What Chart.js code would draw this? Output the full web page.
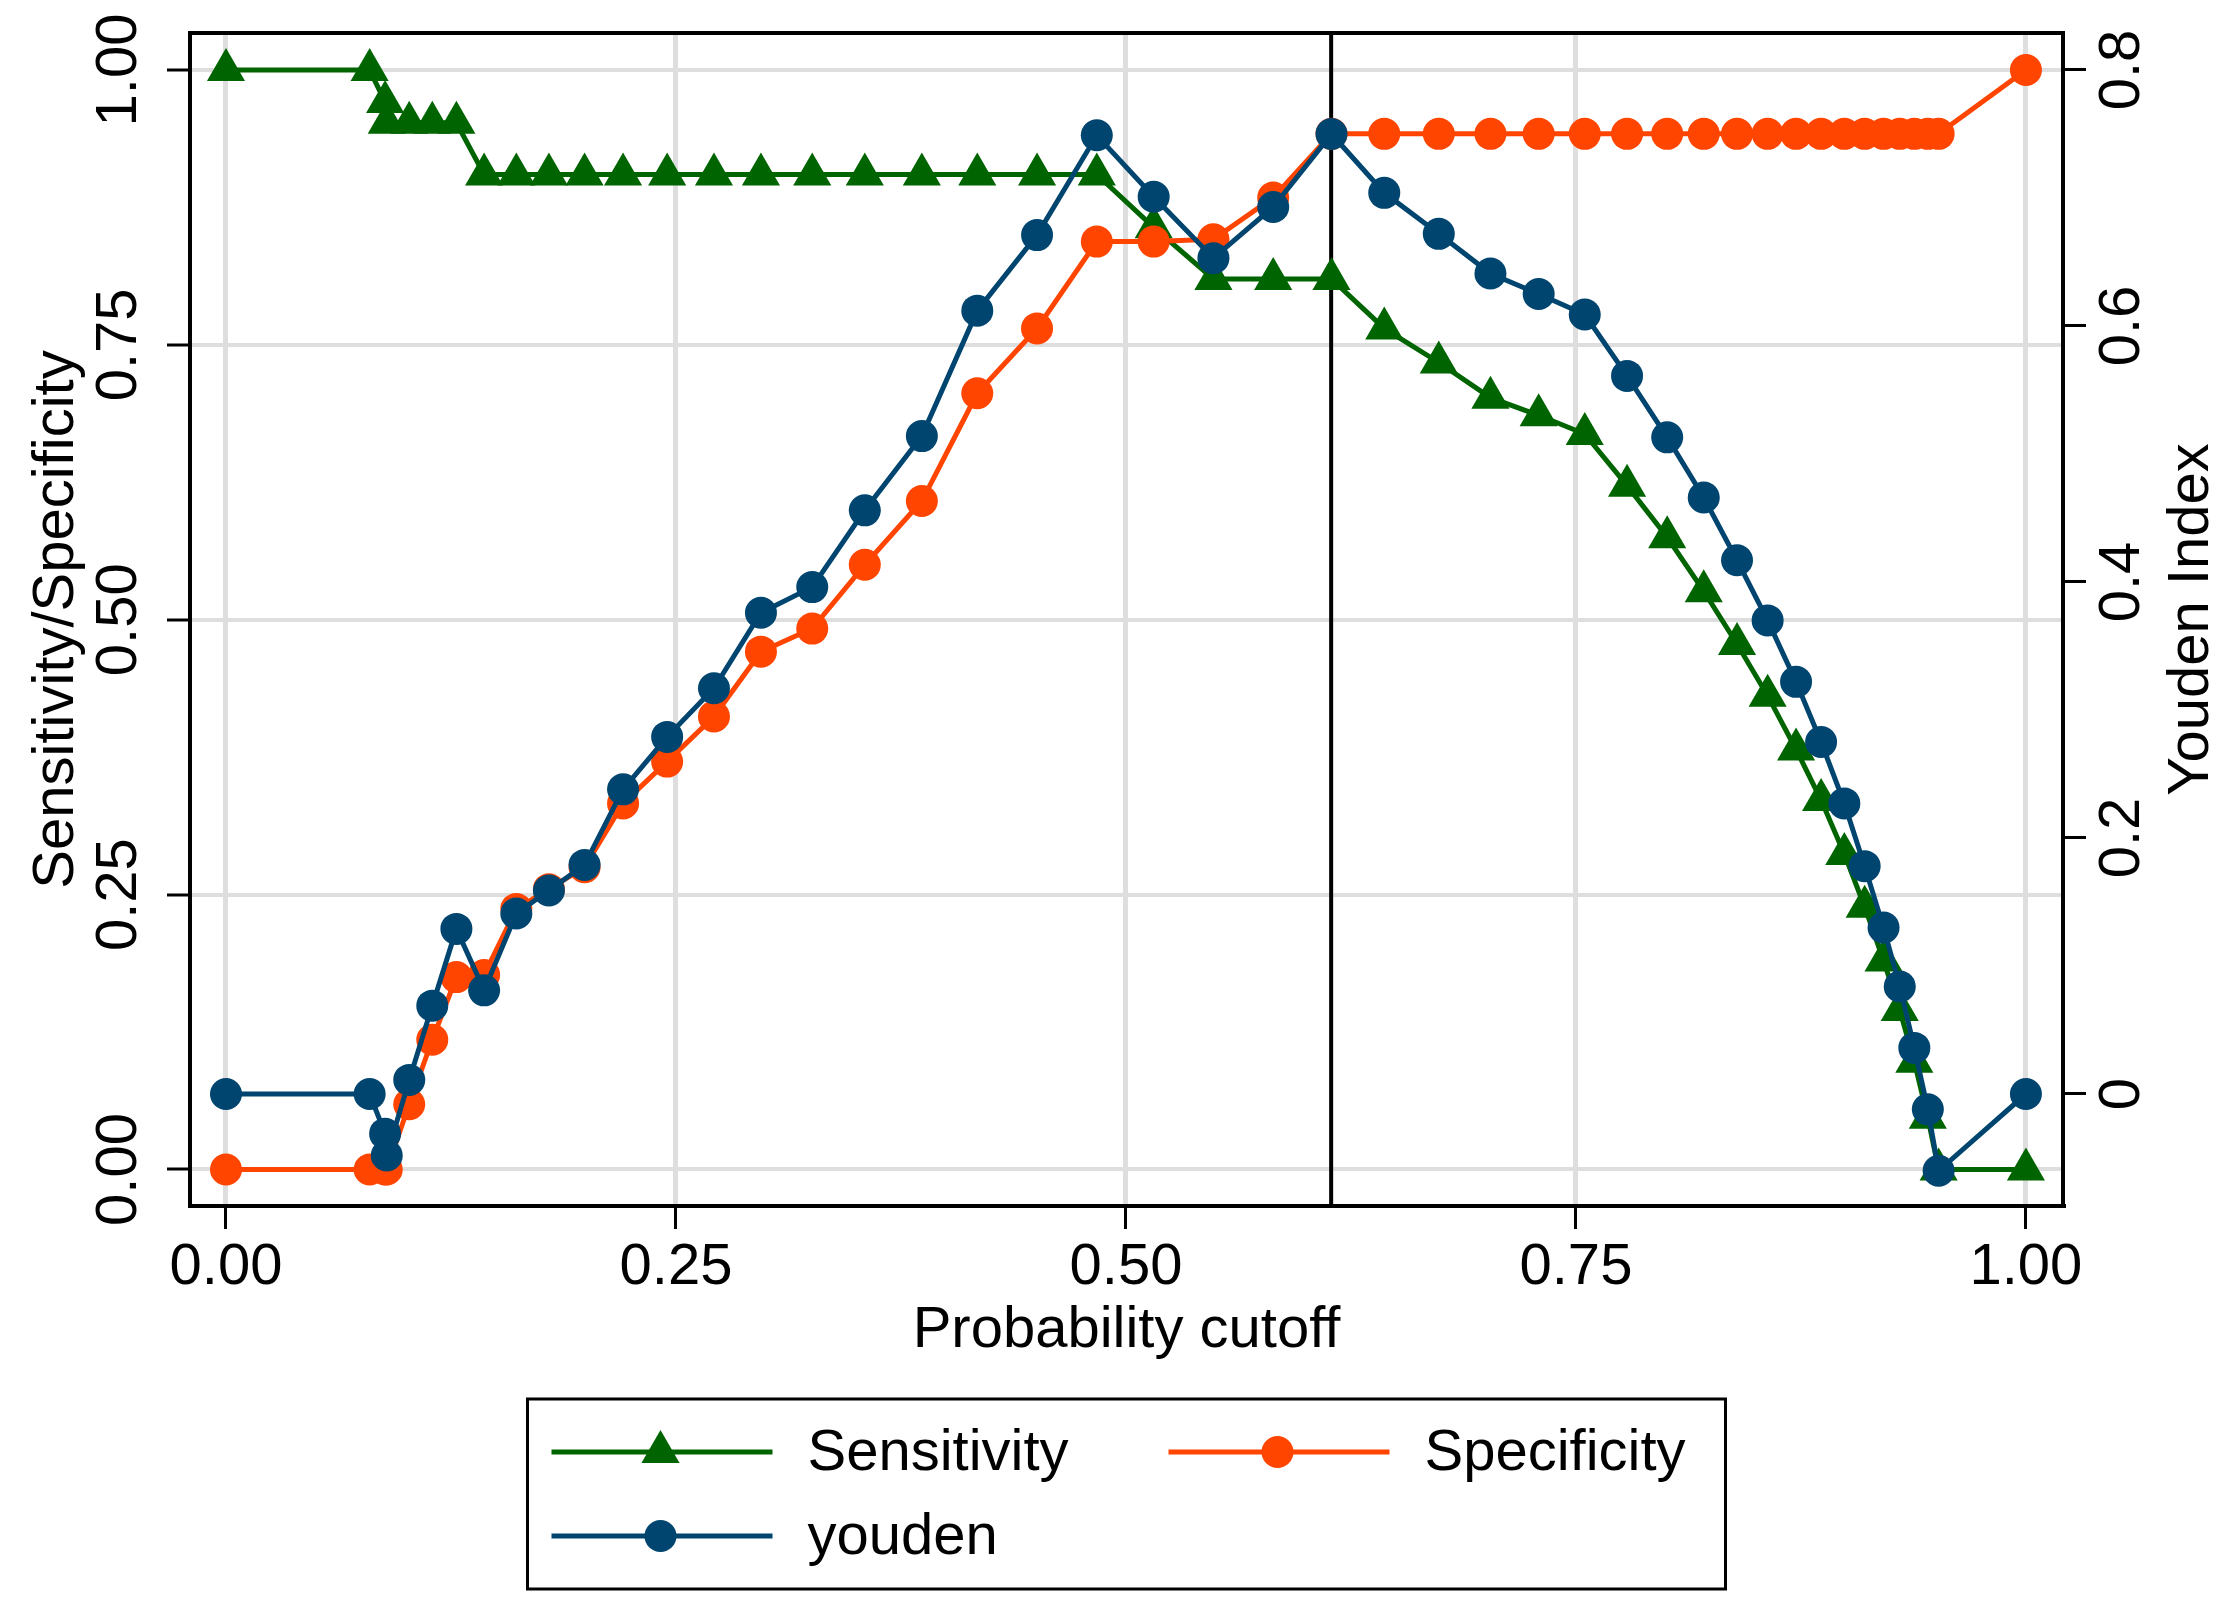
<!DOCTYPE html>
<html>
<head>
<meta charset="utf-8">
<title>Sensitivity / Specificity / Youden</title>
<script src="https://cdn.jsdelivr.net/npm/chart.js@4"></script>
<style>
  html, body { margin: 0; padding: 0; background: #fff; overflow: hidden; }
  #wrap { width: 2232px; height: 1612px; }
</style>
</head>
<body>
<div id="wrap"><canvas id="roc" width="2232" height="1612"></canvas></div>
<script>
// values
const cutoff = [0, 0.0798, 0.0884, 0.0893, 0.1018, 0.1146, 0.128, 0.1434, 0.1613, 0.1794,
  0.1992, 0.2206, 0.2451, 0.2711, 0.2972, 0.3257, 0.3549, 0.3866, 0.4174, 0.4506,
  0.4838, 0.5154, 0.5486, 0.5818, 0.6142, 0.6435, 0.6738, 0.7025, 0.7293, 0.7549,
  0.7784, 0.8007, 0.821, 0.8395, 0.8565, 0.8723, 0.8862, 0.8991, 0.9104, 0.9209,
  0.9299, 0.938, 0.9455, 0.9515, 1.0];

const sensitivity = [1, 1, 0.971, 0.952, 0.952, 0.952, 0.952, 0.905, 0.905, 0.905,
  0.905, 0.905, 0.905, 0.905, 0.905, 0.905, 0.905, 0.905, 0.905, 0.905,
  0.905, 0.857, 0.81, 0.81, 0.81, 0.765, 0.734, 0.702, 0.686, 0.669,
  0.622, 0.575, 0.526, 0.478, 0.431, 0.382, 0.336, 0.287, 0.239, 0.19,
  0.145, 0.098, 0.047, 0, 0];

const specificity = [0, 0, 0, 0, 0.0594, 0.118, 0.175, 0.177, 0.237, 0.255,
  0.275, 0.333, 0.371, 0.412, 0.471, 0.492, 0.55, 0.608, 0.706, 0.765,
  0.844, 0.844, 0.846, 0.884, 0.942, 0.942, 0.942, 0.942, 0.942, 0.942,
  0.942, 0.942, 0.942, 0.942, 0.942, 0.942, 0.942, 0.942, 0.942, 0.942,
  0.942, 0.942, 0.942, 0.942, 1.0];

const youden = [0, 0, -0.031, -0.048, 0.011, 0.069, 0.129, 0.081, 0.141, 0.159,
  0.179, 0.238, 0.279, 0.317, 0.376, 0.396, 0.456, 0.514, 0.612, 0.671,
  0.749, 0.701, 0.653, 0.693, 0.75, 0.704, 0.672, 0.641, 0.625, 0.609,
  0.561, 0.513, 0.466, 0.417, 0.37, 0.322, 0.275, 0.227, 0.178, 0.13,
  0.084, 0.036, -0.012, -0.06, 0];

const bestCutoff = 0.614;

const xTicks = [0, 0.25, 0.5, 0.75, 1];
const xTickLabels = ['0.00', '0.25', '0.50', '0.75', '1.00'];
const leftTicks = [0, 0.25, 0.5, 0.75, 1];
const leftTickLabels = ['0.00', '0.25', '0.50', '0.75', '1.00'];
const rightTicks = [0, 0.2, 0.4, 0.6, 0.8];
const rightTickLabels = ['0', '0.2', '0.4', '0.6', '0.8'];

const GREEN = '#006400';
const ORANGE = '#ff4500';
const NAVY = '#00456f';
const GRID = '#dedede';
const FONT = "'Liberation Sans', Arial, Helvetica, sans-serif";

Chart.defaults.font.family = FONT;
Chart.defaults.font.size = 58;
Chart.defaults.color = '#000';

const pts = (ys) => cutoff.map((c, i) => ({ x: c, y: ys[i] }));

function drawMarker(ctx, style, r, x, y, color) {
  ctx.fillStyle = color;
  ctx.beginPath();
  if (style === 'triangle') {
    for (let k = 0; k < 3; k++) {
      const a = k * 2 * Math.PI / 3;
      const px = x + Math.sin(a) * r, py = y - Math.cos(a) * r;
      if (k === 0) ctx.moveTo(px, py); else ctx.lineTo(px, py);
    }
    ctx.closePath();
  } else {
    ctx.arc(x, y, r, 0, 2 * Math.PI);
  }
  ctx.fill();
}

// cutoff line, frame top, right title and boxed legend
const stataBits = {
  id: 'stataBits',
  beforeDatasetsDraw(chart) {
    const { ctx, chartArea: a, scales } = chart;
    ctx.save();
    ctx.strokeStyle = '#000';
    ctx.lineWidth = 4;
    const xp = scales.x.getPixelForValue(bestCutoff);
    ctx.beginPath();
    ctx.moveTo(xp, a.top);
    ctx.lineTo(xp, a.bottom);
    ctx.moveTo(a.left - 2, a.top);
    ctx.lineTo(a.right + 2, a.top);
    ctx.stroke();
    ctx.restore();
  },
  afterDraw(chart) {
    const { ctx, chartArea: a } = chart;
    ctx.save();
    // right axis title, reading upwards
    const t = chart.options.scales.y2.title;
    ctx.fillStyle = '#000';
    ctx.font = '58px ' + FONT;
    ctx.textAlign = 'center';
    ctx.textBaseline = 'middle';
    ctx.translate(a.right + 129, (a.top + a.bottom) / 2);
    ctx.rotate(-Math.PI / 2);
    ctx.fillText(t.text, 0, 0);
    ctx.restore();

    // legend
    ctx.save();
    const bw = 1198, bh = 190;
    const left = (a.left + a.right) / 2 - bw / 2;
    const top = a.bottom + 193;
    ctx.strokeStyle = '#000';
    ctx.lineWidth = 3;
    ctx.strokeRect(left, top, bw, bh);
    ctx.font = '58px ' + FONT;
    ctx.textBaseline = 'middle';
    ctx.textAlign = 'left';
    chart.data.datasets.forEach((ds, i) => {
      const col = i % 2, row = Math.floor(i / 2);
      const x0 = left + (col ? 641 : 24);
      const y = top + (row ? 137 : 53);
      ctx.strokeStyle = ds.borderColor;
      ctx.lineWidth = 5;
      ctx.beginPath();
      ctx.moveTo(x0, y);
      ctx.lineTo(x0 + 221, y);
      ctx.stroke();
      drawMarker(ctx, ds.pointStyle, ds.pointRadius, x0 + 109, y, ds.pointBackgroundColor);
      ctx.fillStyle = '#000';
      ctx.fillText(ds.label, x0 + 256, y + 2);
    });
    ctx.restore();
  }
};

const tickSet = (vals) => (s) => { s.ticks = vals.map(v => ({ value: v })); };

new Chart(document.getElementById('roc'), {
  type: 'line',
  data: {
    datasets: [
      {
        label: 'Sensitivity',
        data: pts(sensitivity),
        yAxisID: 'y',
        borderColor: GREEN,
        backgroundColor: GREEN,
        pointBackgroundColor: GREEN,
        pointBorderColor: GREEN,
        pointStyle: 'triangle',
        pointRadius: 22,
        pointBorderWidth: 0,
        borderWidth: 5,
        order: 3
      },
      {
        label: 'Specificity',
        data: pts(specificity),
        yAxisID: 'y',
        borderColor: ORANGE,
        backgroundColor: ORANGE,
        pointBackgroundColor: ORANGE,
        pointBorderColor: ORANGE,
        pointStyle: 'circle',
        pointRadius: 16,
        pointBorderWidth: 0,
        borderWidth: 5,
        order: 2
      },
      {
        label: 'youden',
        data: pts(youden),
        yAxisID: 'y2',
        borderColor: NAVY,
        backgroundColor: NAVY,
        pointBackgroundColor: NAVY,
        pointBorderColor: NAVY,
        pointStyle: 'circle',
        pointRadius: 16,
        pointBorderWidth: 0,
        borderWidth: 5,
        order: 1
      }
    ]
  },
  options: {
    responsive: false,
    devicePixelRatio: 1,
    animation: false,
    events: [],
    layout: { padding: { left: 0, right: 0, top: 33, bottom: 246 } },
    elements: { line: { tension: 0 } },
    plugins: { legend: { display: false }, tooltip: { enabled: false } },
    scales: {
      x: {
        type: 'linear',
        position: 'bottom',
        min: -0.02,
        max: 1.0206,
        afterBuildTicks: tickSet(xTicks),
        afterFit: (s) => { s.height = 160; },
        ticks: { padding: 4, maxRotation: 0, callback: (v, i) => xTickLabels[i] },
        grid: { color: GRID, lineWidth: 5, tickColor: '#000', tickWidth: 3, tickLength: 23 },
        border: { display: true, color: '#000', width: 4 },
        title: { display: true, text: 'Probability cutoff', padding: { top: 0, bottom: 0 } }
      },
      y: {
        type: 'linear',
        position: 'left',
        min: -0.0332,
        max: 1.0337,
        afterBuildTicks: tickSet(leftTicks),
        afterFit: (s) => { s.width = 190; },
        ticks: { padding: -9, minRotation: 90, maxRotation: 90, crossAlign: 'center',
                 callback: (v, i) => leftTickLabels[i] },
        grid: { color: GRID, lineWidth: 4, tickColor: '#000', tickWidth: 3, tickLength: 23 },
        border: { display: true, color: '#000', width: 4 },
        title: { display: true, text: 'Sensitivity/Specificity', padding: { top: 22, bottom: 0 } }
      },
      y2: {
        type: 'linear',
        position: 'right',
        min: -0.0875,
        max: 0.8289,
        afterBuildTicks: tickSet(rightTicks),
        afterFit: (s) => { s.width = 169; },
        ticks: { padding: -3, minRotation: 90, maxRotation: 90, crossAlign: 'center',
                 callback: (v, i) => rightTickLabels[i] },
        grid: { drawOnChartArea: false, tickColor: '#000', tickWidth: 3, tickLength: 23 },
        border: { display: true, color: '#000', width: 4 },
        title: { display: false, text: 'Youden Index' }
      }
    }
  },
  plugins: [stataBits]
});
</script>
</body>
</html>
